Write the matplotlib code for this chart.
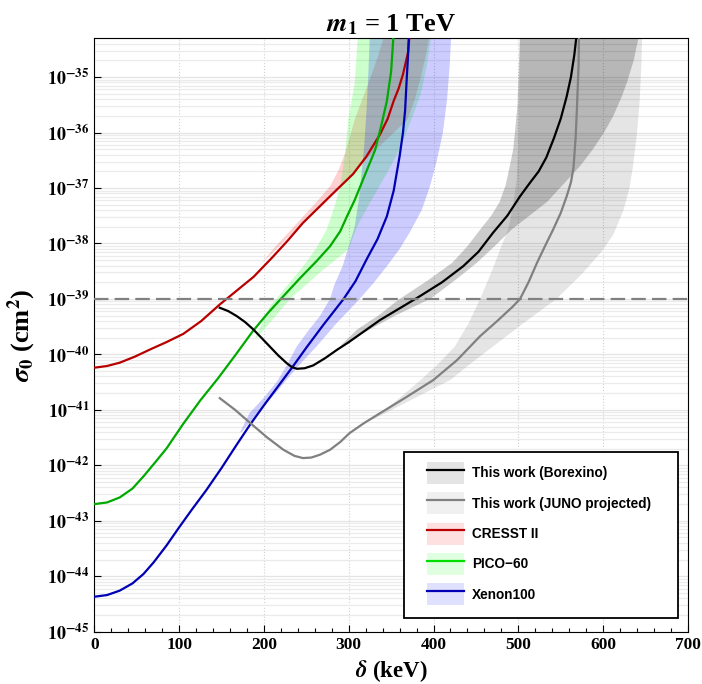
import numpy as np
import matplotlib
matplotlib.use('Agg')
import matplotlib.pyplot as plt
from matplotlib.patches import Patch, Rectangle
from matplotlib.lines import Line2D
from matplotlib.ticker import MultipleLocator, FixedLocator, NullFormatter

plt.rcParams['font.family'] = 'serif'
plt.rcParams['font.serif'] = ['Liberation Serif', 'DejaVu Serif']
plt.rcParams['font.weight'] = 'bold'
plt.rcParams['mathtext.fontset'] = 'stix'
plt.rcParams['mathtext.default'] = 'bf'

# curves: delta in keV, log10(sigma_0 / cm^2)
borexino_d = [148, 158, 168, 178, 187.5, 197, 207, 217, 227, 233, 239, 248, 258, 272, 286, 300, 313, 337, 360, 384,
              410, 435, 453, 470, 487, 502, 514, 524, 533, 542, 550, 557, 562, 566, 569]
borexino_s = [-39.16, -39.22, -39.31, -39.42, -39.55, -39.70, -39.86, -40.02, -40.16, -40.23, -40.26, -40.25,
              -40.20, -40.07, -39.92, -39.78, -39.64, -39.38, -39.17, -38.95, -38.70, -38.41, -38.15, -37.81,
              -37.50, -37.15, -36.90, -36.70, -36.45, -36.10, -35.75, -35.35, -35.0, -34.6, -34.2]

juno_d = [148, 166, 184, 204, 223, 236, 246, 256, 266, 278, 290, 301, 318, 337, 368, 400, 428, 455, 475, 494,
          502, 512, 522, 532, 541, 550, 557, 562, 565, 567.5, 569, 571, 571.5]
juno_s = [-40.79, -41.0, -41.24, -41.5, -41.72, -41.83, -41.87, -41.86, -41.81, -41.72, -41.58, -41.42, -41.24,
          -41.06, -40.77, -40.46, -40.10, -39.67, -39.40, -39.13, -39.0, -38.70, -38.35, -38.03, -37.75, -37.45,
          -37.15, -36.90, -36.64, -36.1, -35.6, -34.8, -34.2]

cresst_d = [0, 15, 30, 48, 66, 85, 105, 126, 148, 168, 188, 210, 228, 246, 266, 286, 305, 321, 337, 346, 353,
            359, 364, 370, 372]
cresst_s = [-40.24, -40.21, -40.15, -40.04, -39.91, -39.78, -39.63, -39.40, -39.10, -38.85, -38.60, -38.25, -37.95,
            -37.63, -37.33, -37.03, -36.75, -36.43, -36.03, -35.75, -35.43, -35.2, -34.95, -34.55, -34.2]

pico_d = [0, 15, 30, 45, 58, 70, 85, 105, 125, 146, 167, 187, 205, 220, 243, 262, 278, 290, 298, 307, 315, 323,
          331, 338, 345, 350, 353]
pico_s = [-42.70, -42.67, -42.58, -42.42, -42.20, -41.98, -41.70, -41.25, -40.83, -40.43, -40.0, -39.58, -39.25,
          -39.0, -38.62, -38.32, -38.05, -37.78, -37.51, -37.22, -36.92, -36.62, -36.32, -35.9, -35.43, -34.9, -34.2]

xenon_d = [0, 15, 30, 45, 58, 70, 85, 100, 115, 132, 150, 167, 184, 200, 218, 235, 250, 270, 294, 308, 321, 334,
           345, 353, 360, 364, 366.5, 368.5, 370, 371]
xenon_s = [-44.37, -44.34, -44.26, -44.13, -43.96, -43.75, -43.45, -43.12, -42.80, -42.45, -42.05, -41.65, -41.26,
           -40.92, -40.55, -40.20, -39.88, -39.47, -39.0, -38.68, -38.29, -37.92, -37.51, -37.05, -36.43, -36.0,
           -35.6, -35.0, -34.6, -34.2]

# uncertainty bands: left edge and right edge (delta, log10 sigma)
borexino_lo_d = [290, 310, 335, 360, 392, 422, 440, 455, 468, 478, 485, 490, 494, 496, 499, 500, 502]
borexino_lo_s = [-39.85, -39.55, -39.3, -39.0, -38.68, -38.35, -38.05, -37.75, -37.5, -37.25, -36.95, -36.6,
                 -36.3, -36.0, -35.5, -35.1, -34.2]
borexino_hi_d = [290, 325, 355, 396, 424, 451, 472, 492, 513, 534, 555, 573, 588, 601, 612, 622, 628, 636, 643]
borexino_hi_s = [-39.85, -39.55, -39.3, -39.0, -38.68, -38.35, -38.05, -37.75, -37.5, -37.25, -36.9, -36.6,
                 -36.3, -36.0, -35.7, -35.35, -35.1, -34.7, -34.2]

juno_lo_d = [325, 355, 385, 407, 425, 441, 455, 470, 480, 488, 494, 498, 500, 501, 502]
juno_lo_s = [-41.2, -40.85, -40.46, -40.15, -39.86, -39.45, -39.0, -38.45, -38.05, -37.75, -37.3, -36.85, -36.2,
             -35.44, -34.2]
juno_hi_d = [325, 370, 420, 445, 470, 505, 545, 575, 598, 612, 624, 631, 635, 640, 643, 645, 646]
juno_hi_s = [-41.2, -40.85, -40.46, -40.15, -39.86, -39.45, -39.0, -38.55, -38.15, -37.84, -37.4, -37.0, -36.63,
             -36.0, -35.44, -34.8, -34.2]

cresst_lo_d = [195, 214, 228, 243, 261, 278, 288, 296, 302, 307, 316, 325, 334, 343]
cresst_lo_s = [-38.4, -38.05, -37.82, -37.57, -37.27, -36.97, -36.68, -36.36, -36.05, -35.77, -35.4, -35.04,
               -34.65, -34.2]
cresst_hi_d = [195, 246, 290, 317, 343, 369, 378, 385, 391, 396]
cresst_hi_s = [-38.4, -37.63, -37.0, -36.53, -36.15, -35.77, -35.4, -35.0, -34.6, -34.2]

pico_lo_d = [190, 207, 228, 246, 262, 274, 283, 290, 296, 299.5, 307, 311]
pico_lo_s = [-39.7, -39.14, -38.75, -38.42, -38.08, -37.75, -37.35, -36.97, -36.35, -35.76, -35.13, -34.2]
pico_hi_d = [192, 231, 268, 300, 310, 322, 335, 348, 360, 373, 385, 392, 398]
pico_hi_s = [-39.7, -39.0, -38.5, -38.1, -37.69, -37.35, -37.0, -36.65, -36.3, -35.8, -35.3, -34.8, -34.2]

xenon_lo_d = [172, 183, 200, 215, 227, 238.6, 252, 266, 278, 283, 293, 300, 307, 312, 315, 318, 321, 323, 325]
xenon_lo_s = [-41.4, -41.06, -40.78, -40.5, -40.2, -39.86, -39.58, -39.31, -39.0, -38.75, -38.4, -38.05, -37.7,
              -37.2, -36.75, -36.3, -35.6, -35.0, -34.2]
xenon_hi_d = [174, 192, 212, 230, 246, 262, 285, 313, 330, 345, 360, 372, 386, 396, 404, 411, 416, 419, 421]
xenon_hi_s = [-41.4, -41.06, -40.73, -40.4, -40.12, -39.86, -39.45, -39.0, -38.7, -38.41, -38.1, -37.8, -37.4,
              -36.96, -36.5, -36.0, -35.4, -34.8, -34.2]

reference_sigma = 1e-39

labels = ['This work (Borexino)', 'This work (JUNO projected)', 'CRESST II', 'PICO\u221260', 'Xenon100']


def band(ax, lo_d, lo_s, hi_d, hi_s, color, alpha):
    xs = np.r_[lo_d, hi_d[::-1]]
    ys = 10.0 ** np.r_[lo_s, hi_s[::-1]]
    ax.fill(xs, ys, color=color, alpha=alpha, lw=0, zorder=2)


fig = plt.figure(figsize=(7.02, 6.84), dpi=100)
ax = fig.add_axes([0.1343, 0.0765, 0.8457, 0.8675])
ax.set_yscale('log')
ax.set_xlim(0, 700)
ax.set_ylim(1e-45, 5e-35)

# grid
ax.yaxis.set_minor_locator(FixedLocator([m * 10.0 ** e for e in range(-45, -34) for m in range(2, 10)]))
ax.yaxis.set_minor_formatter(NullFormatter())
ax.grid(True, which='minor', axis='y', color='#ebebeb', lw=0.9, zorder=0)
ax.grid(True, which='major', axis='y', color='#e4e4e4', lw=0.9, zorder=0)
ax.grid(True, which='major', axis='x', color='#d0d0d0', lw=0.8, ls=':', zorder=0)

band(ax, juno_lo_d, juno_lo_s, juno_hi_d, juno_hi_s, 'k', 0.1)
band(ax, borexino_lo_d, borexino_lo_s, borexino_hi_d, borexino_hi_s, 'k', 0.2)
band(ax, cresst_lo_d, cresst_lo_s, cresst_hi_d, cresst_hi_s, '#ff0000', 0.18)
band(ax, pico_lo_d, pico_lo_s, pico_hi_d, pico_hi_s, '#00ff00', 0.2)
band(ax, xenon_lo_d, xenon_lo_s, xenon_hi_d, xenon_hi_s, '#0000ff', 0.2)

ax.plot(cresst_d, 10.0 ** np.array(cresst_s), color='#b80000', lw=1.6, zorder=4)
ax.plot(pico_d, 10.0 ** np.array(pico_s), color='#00aa00', lw=1.6, zorder=4)
ax.plot(xenon_d, 10.0 ** np.array(xenon_s), color='#0000b4', lw=1.6, zorder=4)
ax.plot(juno_d, 10.0 ** np.array(juno_s), color='#808080', lw=1.6, zorder=4)
ax.plot(borexino_d, 10.0 ** np.array(borexino_s), color='k', lw=1.6, zorder=4)
ax.axhline(reference_sigma, color='#808080', lw=1.6, ls=(0, (6.5, 2.8)), zorder=5)

# ticks
ax.xaxis.set_major_locator(MultipleLocator(100))
ax.xaxis.set_minor_locator(MultipleLocator(20))
ax.set_yticks([10.0 ** e for e in range(-45, -34)])
ax.set_yticklabels([r'$10^{%d}$' % e for e in range(-45, -34)])
ax.tick_params(axis='both', which='major', direction='in', length=5, width=0.8)
ax.tick_params(axis='x', which='major', labelsize=12.5)
ax.tick_params(axis='y', which='major', labelsize=13)
ax.tick_params(axis='x', which='minor', direction='in', length=3, width=0.8)
ax.tick_params(axis='y', which='minor', length=0)
for lab in ax.get_xticklabels():
    lab.set_fontweight('bold')

ax.set_xlabel(r'$\mathit{\delta}$ (keV)', fontsize=16.5, fontweight='bold')
ax.set_ylabel(r'$\mathit{\sigma}_\mathbf{0}$ (cm$^\mathbf{2}$)', fontsize=19, fontweight='bold')
ax.xaxis.set_label_coords(0.5, -0.045)
ax.yaxis.set_label_coords(-0.095, 0.5)
ax.set_title(r'$\mathbfit{m}_\mathbf{1}$ = 1 TeV', fontsize=19, fontweight='bold', pad=5)

# legend: frame drawn separately so the padding can differ from the text spacing
ax.add_patch(Rectangle((0.5216, 0.0231), 0.4615, 0.2797, transform=ax.transAxes,
                       facecolor='white', edgecolor='k', lw=1.3, zorder=9))
handles = [
    (Patch(facecolor='#e4e4e4', edgecolor='none'), Line2D([], [], color='k', lw=1.6)),
    (Patch(facecolor='#f0f0f0', edgecolor='none'), Line2D([], [], color='#808080', lw=1.6)),
    (Patch(facecolor='#ffe0e0', edgecolor='none'), Line2D([], [], color='#b80000', lw=1.6)),
    (Patch(facecolor='#e0ffe0', edgecolor='none'), Line2D([], [], color='#00dd00', lw=1.6)),
    (Patch(facecolor='#e0e0ff', edgecolor='none'), Line2D([], [], color='#0000b4', lw=1.6)),
]
leg = ax.legend(handles, labels, loc='upper left', bbox_to_anchor=(0.560, 0.286),
                frameon=False, prop={'family': 'Liberation Sans', 'weight': 'bold', 'size': 9.8},
                handlelength=2.72, handleheight=2.1, handletextpad=0.59, labelspacing=0.62,
                borderpad=0, borderaxespad=0)
leg.set_zorder(10)

fig.savefig('out.png', dpi=100)
